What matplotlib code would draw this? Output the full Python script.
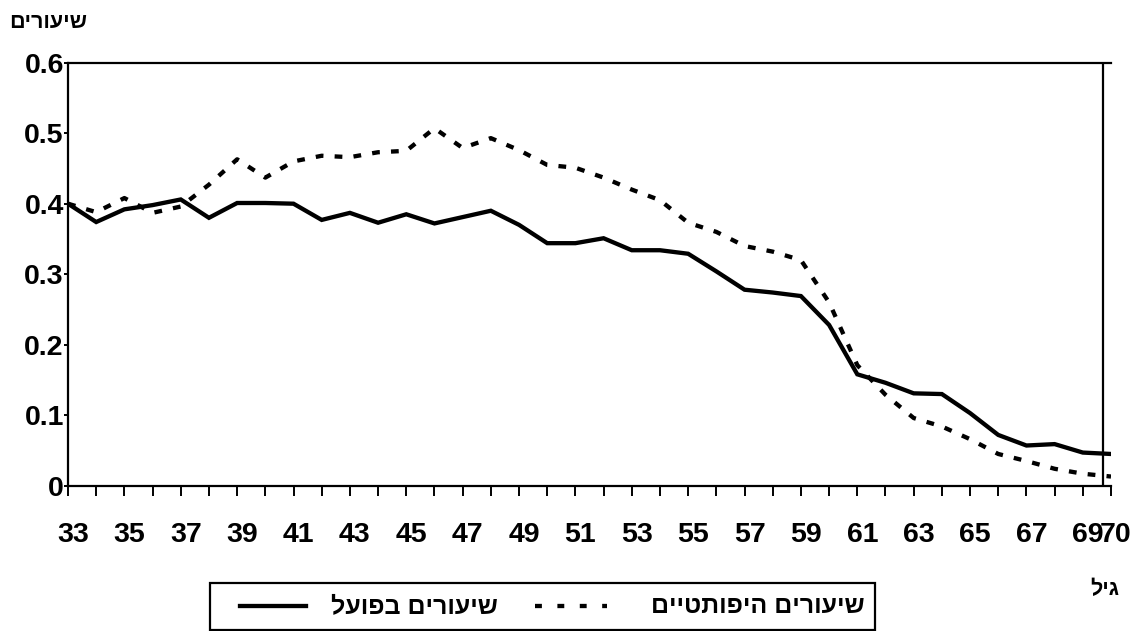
import matplotlib
matplotlib.use("Agg")
import matplotlib.pyplot as plt
from matplotlib.lines import Line2D
from matplotlib.patches import Rectangle
import matplotlib.transforms as mtransforms

plt.rcParams['font.family'] = ['Liberation Sans', 'DejaVu Sans']

# ---- data ----
ages = list(range(33, 71))
actual_rates = [0.400, 0.374, 0.392, 0.398, 0.406, 0.380, 0.401, 0.401, 0.400, 0.377,
                0.387, 0.373, 0.385, 0.372, 0.381, 0.390, 0.370, 0.344, 0.344, 0.351,
                0.334, 0.334, 0.329, 0.304, 0.278, 0.274, 0.269, 0.228, 0.158, 0.146,
                0.131, 0.130, 0.103, 0.072, 0.057, 0.059, 0.047, 0.045]
hypo_rates = [0.400, 0.388, 0.408, 0.387, 0.396, 0.427, 0.463, 0.437, 0.460, 0.468,
              0.466, 0.473, 0.475, 0.507, 0.479, 0.493, 0.476, 0.455, 0.451, 0.437,
              0.420, 0.405, 0.373, 0.360, 0.340, 0.332, 0.320, 0.260, 0.171, 0.129,
              0.096, 0.084, 0.066, 0.045, 0.035, 0.024, 0.017, 0.013]
x_tick_labels = [str(a) if (a % 2 == 1 or a == 70) else '' for a in ages]
y_ticks = [0, 0.1, 0.2, 0.3, 0.4, 0.5, 0.6]
y_tick_labels = ['0', '0.1', '0.2', '0.3', '0.4', '0.5', '0.6']

y_title = 'שיעורים'
x_title = 'גיל'
label_actual = 'שיעורים בפועל'
label_hypo = 'שיעורים היפותטיים'


def rtl(s):
    # matplotlib has no bidi support: reverse the logical order for display
    return s[::-1]


fig = plt.figure(figsize=(11.35, 6.31), dpi=100)
ax = fig.add_axes([68 / 1135, 1 - 485.7 / 631, (1111 - 68) / 1135, (485.7 - 62.7) / 631])

lw = 3.1
dash = (0, (1.8, 2.6))
ax.plot(ages, actual_rates, color='black', lw=lw, solid_joinstyle='miter', zorder=3)
ax.plot(ages, hypo_rates, color='black', lw=lw, linestyle=dash,
        dash_capstyle='butt', zorder=3)

ax.set_xlim(33, 70)
ax.set_ylim(0, 0.6)
ax.axvline(69.7, color='black', lw=1.6, zorder=2)

for side in ['left', 'bottom', 'top']:
    ax.spines[side].set_linewidth(1.6)
    ax.spines[side].set_color('black')
ax.spines['right'].set_visible(False)

ax.set_xticks(ages)
ax.set_xticklabels(x_tick_labels, fontsize=20.5, fontweight='bold')
ax.tick_params(axis='x', direction='out', length=7, width=1.4, pad=19)
ax.set_yticks(y_ticks)
ax.set_yticklabels(y_tick_labels, fontsize=20.5, fontweight='bold')
ax.tick_params(axis='y', direction='out', length=3, width=1.4, pad=0)

offset = mtransforms.ScaledTranslation(5 / 100, 0, fig.dpi_scale_trans)
for lab in ax.get_xticklabels():
    lab.set_transform(lab.get_transform() + offset)

# titles
fig.text(48 / 1135, 1 - 22 / 631, rtl(y_title), fontsize=15.5, fontweight='bold',
         ha='center', va='center')
fig.text(1105 / 1135, 1 - 590 / 631, rtl(x_title), fontsize=15.5, fontweight='bold',
         ha='center', va='center')

# manual RTL legend
W, H = 1135, 631
fig.patches.append(Rectangle((210 / W, 1 - 630 / H), (875 - 210) / W, (630 - 583) / H,
                             transform=fig.transFigure, fill=False, edgecolor='black',
                             lw=1.6))
ly = 1 - 606 / H
fig.lines.append(Line2D([240 / W, 306 / W], [ly, ly], transform=fig.transFigure,
                        color='black', lw=lw))
fig.lines.append(Line2D([535 / W, 607 / W], [ly, ly], transform=fig.transFigure,
                        color='black', lw=lw, linestyle=(0, (1.6, 3.6))))
fig.text(414 / W, ly, rtl(label_actual), fontsize=18, fontweight='bold',
         ha='center', va='center')
fig.text(758 / W, ly, rtl(label_hypo), fontsize=18, fontweight='bold',
         ha='center', va='center')

fig.savefig('out.png', dpi=100)
